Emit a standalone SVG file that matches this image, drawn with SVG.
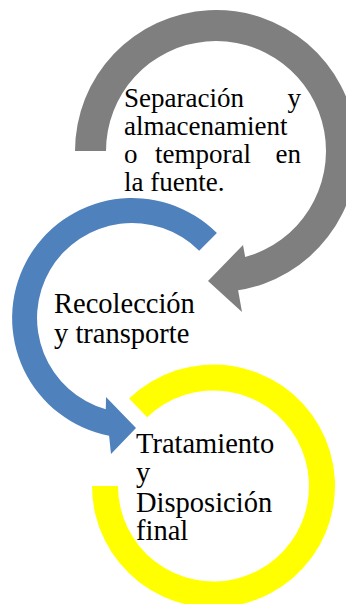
<svg xmlns="http://www.w3.org/2000/svg" width="346" height="604" viewBox="0 0 346 604">
  <style>
    .lbl { font-family: "Liberation Serif", "Times New Roman", serif; fill: #000; }
    .top { font-size: 27px; }
    .mid { font-size: 28.5px; }
  </style>
  <rect x="0" y="0" width="346" height="604" fill="#ffffff"/>
  <g id="connectors"></g>
  <g id="node-separacion">
    <path fill="#7f7f7f" d="M 75 151 A 141 141 0 1 1 238.1 290.3 L 242 312 L 208 281 L 243 245 L 245.2 257 A 110 110 0 1 0 106 151 Z"/>
    <text class="lbl top" x="124" y="106.5">Separación<tspan x="301" text-anchor="end">y</tspan></text>
    <text class="lbl top" x="124" y="134.5">almacenamient</text>
    <text class="lbl top" x="124" y="162.5">o<tspan x="155">temporal</tspan><tspan x="301" text-anchor="end">en</tspan></text>
    <text class="lbl top" x="124" y="190.5">la fuente.</text>
  </g>
  <g id="node-recoleccion">
    <path fill="#4f81bd" d="M 216.9 233.1 A 120 120 0 1 0 109.1 435.8 L 111 454 L 136 428 L 106 397 L 105.8 409.3 A 95 95 0 1 1 199.2 250.8 Z"/>
    <text class="lbl mid" x="54" y="313">Recolección</text>
    <text class="lbl mid" x="54" y="343">y transporte</text>
  </g>
  <g id="node-tratamiento">
    <path fill="#ffff00" d="M 129.1 398.6 A 121.5 121.5 0 1 1 92 486 L 118 486 A 95.5 95.5 0 1 0 147.2 417.3 Z"/>
    <text class="lbl mid" x="136" y="453">Tratamiento</text>
    <text class="lbl mid" x="136" y="482">y</text>
    <text class="lbl mid" x="136" y="512">Disposición</text>
    <text class="lbl mid" x="136" y="540">final</text>
  </g>
</svg>
